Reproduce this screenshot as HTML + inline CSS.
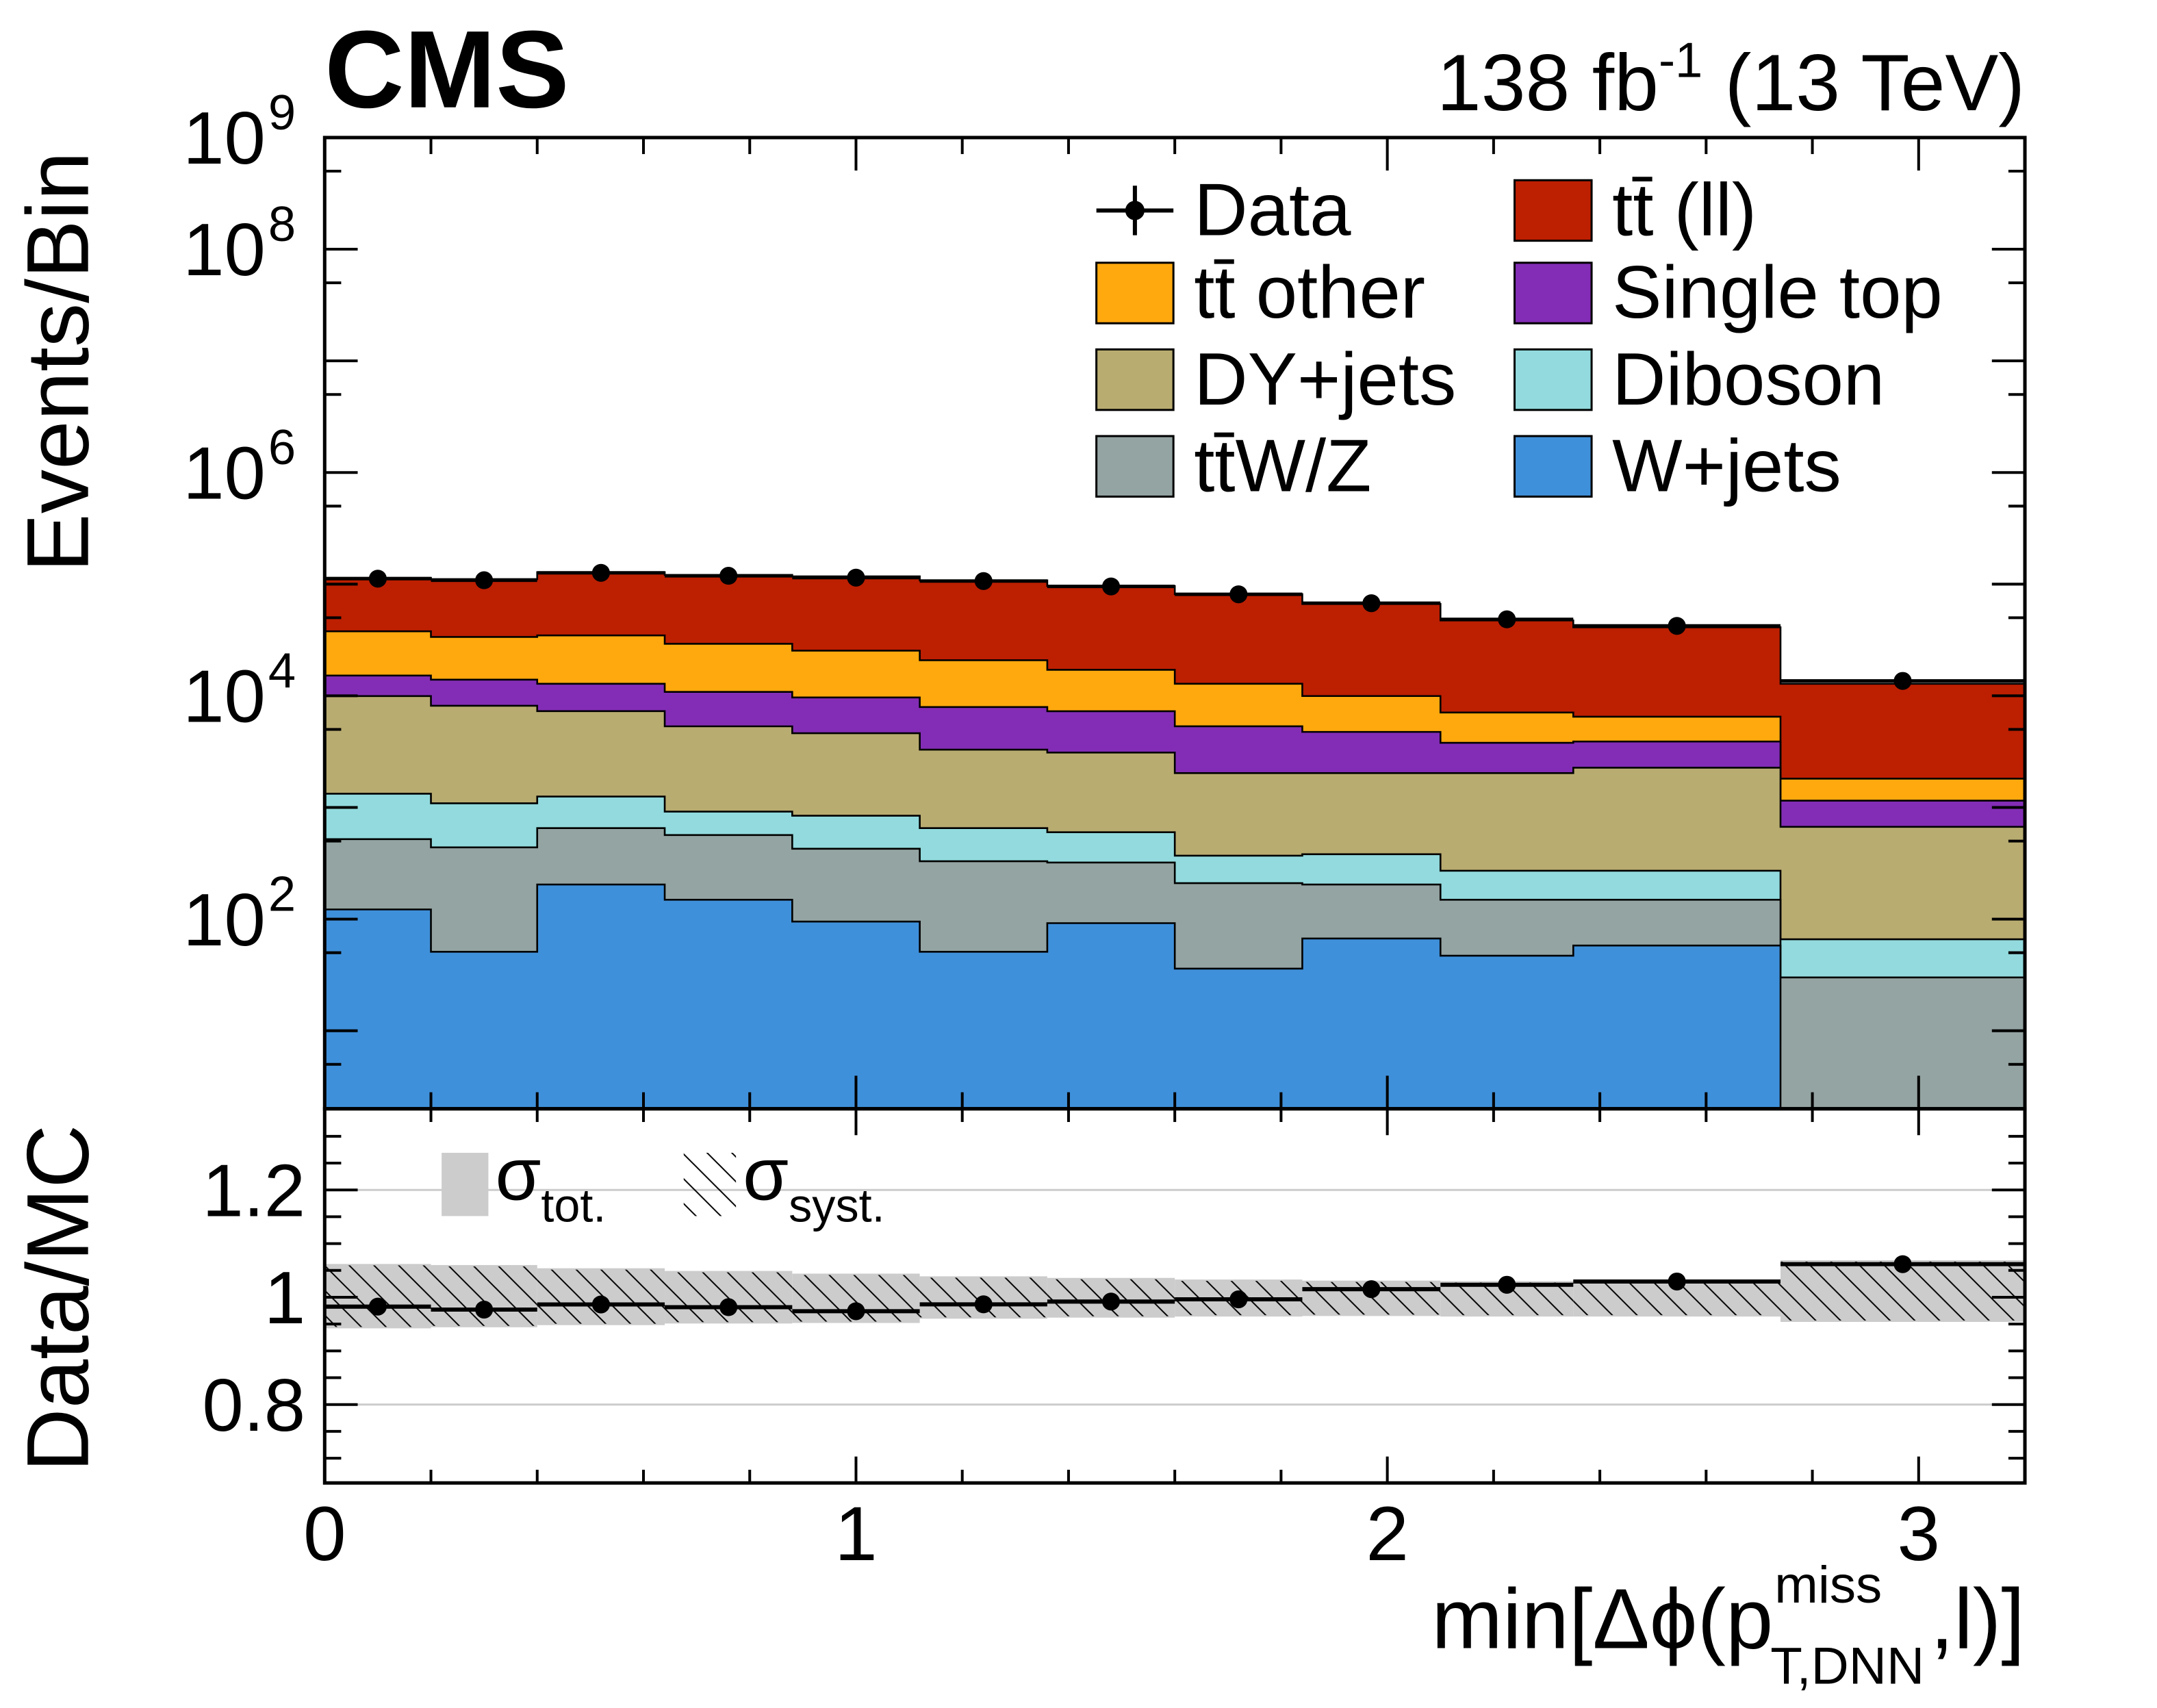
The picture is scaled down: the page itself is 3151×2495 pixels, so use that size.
<!DOCTYPE html>
<html><head><meta charset="utf-8"><style>
html,body{margin:0;padding:0;background:#fff;}
svg{display:block;font-family:"Liberation Sans",Arial,sans-serif;}
</style></head><body>
<svg id="chart" width="3151" height="2495" viewBox="0 0 1568 1241.6" xmlns="http://www.w3.org/2000/svg">
<defs>
<pattern id="hatch" patternUnits="userSpaceOnUse" width="18" height="18">
<path d="M-2,-2 L20,20 M-20,-2 L2,20 M16,-2 L38,20" stroke="#000" stroke-width="1"/>
</pattern>
<clipPath id="mainclip"><rect x="236" y="100" width="1236" height="706"/></clipPath>
<clipPath id="ratioclip"><rect x="236" y="806" width="1236" height="272"/></clipPath>
</defs>
<g id="main-stack" clip-path="url(#mainclip)"></g>
<g id="main-data"></g>
<g id="ratio-grid"></g>
<g id="ratio-band" clip-path="url(#ratioclip)"></g>
<g id="ratio-data"></g>
<g id="axes"></g>
<g id="labels">
<text x="236" y="78" font-size="80" font-weight="bold">CMS</text>
<text x="1472" y="80" font-size="58" text-anchor="end">138 fb<tspan dy="-24" font-size="36">-1</tspan><tspan dy="24"> (13 TeV)</tspan></text>
<text transform="translate(64,416) rotate(-90)" font-size="64">Events/Bin</text>
<text transform="translate(64,1070) rotate(-90)" font-size="64">Data/MC</text>
<text x="1289" y="1198" font-size="62" text-anchor="end">min[Δϕ(p</text>
<text x="1290" y="1165" font-size="38">miss</text>
<text x="1287" y="1224" font-size="38">T,DNN</text>
<text x="1472" y="1198" font-size="62" text-anchor="end">,l)]</text>
</g>
<g id="legend"></g>
<g id="ratio-legend">
<rect x="321" y="838" width="34" height="46" fill="#cccccc"/>
<text x="360" y="872" font-size="54">σ<tspan font-size="34" dy="16">tot.</tspan></text>
<rect x="497" y="838" width="38" height="46" fill="url(#hatch)"/>
<text x="540" y="872" font-size="54">σ<tspan font-size="34" dy="16">syst.</tspan></text>
</g>
</svg>
<script>
const edges=[0,0.2,0.4,0.64,0.88,1.12,1.36,1.6,1.84,2.1,2.35,2.74,3.2];
const wjets=[122,51,204,149,95,51,92,36,67,47,58,0];
const ttvz=[398,388,449,417,332,279,229,174,137,102,91,30];
const diboson=[807,650,600,352,416,323,279,160,177,122,122,36];
const dyjets=[8620,7060,6030,4410,3780,2640,2500,1660,1650,1760,2000,605];
const singletop=[5250,5810,5540,5510,5040,4640,4180,3300,2720,1760,1625,479];
const ttother=[22600,19700,21900,18400,15700,12900,9800,7490,5200,3290,2600,660];
const ttll=[76200,77300,93300,91800,92100,87200,79100,68600,56550,40220,34600,11000];
const dataVals=[112000,108400,126300,118800,114400,106600,95400,81100,67500,48400,42300,13600];
const uncUp=[0.062,0.06,0.054,0.049,0.044,0.039,0.036,0.033,0.031,0.03,0.03,0.069];
const uncDown=[0.058,0.056,0.052,0.049,0.048,0.04,0.038,0.036,0.035,0.036,0.036,0.046];
const procNames=["W+jets","ttW/Z","Diboson","DY+jets","Single top","tt other","tt (ll)"];
const procColors=["#3f90da","#94a4a2","#92dadd","#b9ac70","#832db6","#ffa90e","#bd1f01"];
const xTicks=[0,1,2,3];
const yDecLabels=[2,4,6,8,9];
const rTicks=[0.8,1,1.2];

const NS="http://www.w3.org/2000/svg";
const X0=236,X1=1472,YT=100,YB=806,RB=1078;
function X(v){return X0+v*386.25;}
function Y(v){if(v<=2)return YB;return YT+(9-Math.log10(v))*81.16;}
function R(r){return 943-(r-1)*390;}
function mk(tag,attrs,parent){const e=document.createElementNS(NS,tag);for(const k in attrs)e.setAttribute(k,attrs[k]);parent.appendChild(e);return e;}

const layers=[wjets,ttvz,diboson,dyjets,singletop,ttother,ttll];
const cum=[];let run=edges.slice(1).map(()=>0);
layers.forEach(l=>{run=run.map((v,i)=>v+l[i]);cum.push(run.slice());});
const total=cum[cum.length-1];

const gStack=document.getElementById('main-stack');
for(let k=layers.length-1;k>=0;k--){
  let d=`M${X(edges[0])},${YB}`;
  cum[k].forEach((c,i)=>{d+=` L${X(edges[i])},${Y(c)} L${X(edges[i+1])},${Y(c)}`;});
  d+=` L${X(edges[edges.length-1])},${YB} Z`;
  const p=mk('path',{d:d,fill:procColors[k],stroke:'#000','stroke-width':1.3},gStack);
  
  
}
const gData=document.getElementById('main-data');
dataVals.forEach((v,i)=>{
  const cx=(X(edges[i])+X(edges[i+1]))/2;
  const ln=mk('line',{x1:X(edges[i]),x2:X(edges[i+1]),y1:Y(v),y2:Y(v),stroke:'#000','stroke-width':2.5},gData);
  
  
  const c=mk('circle',{cx:cx,cy:Y(v),r:6.5,fill:'#000'},gData);
  
  
});
const gGrid=document.getElementById('ratio-grid');
[0.8,1.2].forEach(r=>{const l=mk('line',{x1:X0,x2:X1,y1:R(r),y2:R(r),stroke:'#cccccc','stroke-width':1.5},gGrid);
  
  });
const gBand=document.getElementById('ratio-band');
uncUp.forEach((u,i)=>{
  const x=X(edges[i]),w=X(edges[i+1])-x,y=R(1+u),h=R(1-uncDown[i])-y;
  const r1=mk('rect',{x:x,y:y,width:w,height:h,fill:'#cccccc'},gBand);
  
  
  const r2=mk('rect',{x:x,y:y+1,width:w,height:h-2,fill:'url(#hatch)'},gBand);
  
  
});
const gR=document.getElementById('ratio-data');
dataVals.forEach((v,i)=>{
  const r=v/total[i];const cx=(X(edges[i])+X(edges[i+1]))/2;
  const ln=mk('line',{x1:X(edges[i]),x2:X(edges[i+1]),y1:R(r),y2:R(r),stroke:'#000','stroke-width':3},gR);
  
  
  const c=mk('circle',{cx:cx,cy:R(r),r:6.5,fill:'#000'},gR);
  
  
});
const gA=document.getElementById('axes');
[[X0,YT,X1-X0,YB-YT],[X0,YB,X1-X0,RB-YB]].forEach(b=>{const r=mk('rect',{x:b[0],y:b[1],width:b[2],height:b[3],fill:'none',stroke:'#000','stroke-width':2.5},gA);
  
  });
function tick(x1,y1,x2,y2){const l=mk('line',{x1:x1,y1:y1,x2:x2,y2:y2,stroke:'#000','stroke-width':2},gA);
  
  }
for(let v=0;v<=3.2001;v+=0.2){
  const major=Math.abs(v-Math.round(v))<1e-6;const L=major?24:12;const x=X(v);
  tick(x,YT,x,YT+L);tick(x,YB,x,YB-L);tick(x,YB,x,YB+L*0.8);tick(x,RB,x,RB-L*0.8);
}
xTicks.forEach(v=>{const t=mk('text',{x:X(v),y:1134,'font-size':56,'text-anchor':'middle'},gA);t.textContent=v;
  
  });
for(let d=1;d<=9;d++){
  const y=Y(Math.pow(10,d));
  if(y<=YB){tick(X0,y,X0+24,y);tick(X1,y,X1-24,y);}
  const ym=Y(5*Math.pow(10,d-1));
  if(ym<YB&&ym>YT){tick(X0,ym,X0+12,ym);tick(X1,ym,X1-12,ym);}
}
yDecLabels.forEach(d=>{const t=mk('text',{x:193,y:Y(Math.pow(10,d))+19,'font-size':54,'text-anchor':'end'},gA);
  t.textContent='10';
  
  
  const s=mk('text',{x:195,y:Y(Math.pow(10,d))-6,'font-size':36},gA);s.textContent=d;
  
  });
for(let r=0.7;r<=1.3001;r+=0.05){
  const major=Math.abs(r*5-Math.round(r*5))<1e-6;const L=major?24:12;const y=R(r);
  tick(X0,y,X0+L,y);tick(X1,y,X1-L,y);
}
rTicks.forEach(r=>{const t=mk('text',{x:222,y:R(r)+19,'font-size':54,'text-anchor':'end'},gA);t.textContent=(r===1?'1':String(r));
  
  });
const gL=document.getElementById('legend');
const legItems=[
 {t:'Data',x:797,y:153,data:true},{t:'tt̄ (ll)',x:1101,y:153,c:'#bd1f01'},
 {t:'tt̄ other',x:797,y:213,c:'#ffa90e'},{t:'Single top',x:1101,y:213,c:'#832db6'},
 {t:'DY+jets',x:797,y:276,c:'#b9ac70'},{t:'Diboson',x:1101,y:276,c:'#92dadd'},
 {t:'tt̄W/Z',x:797,y:339,c:'#94a4a2'},{t:'W+jets',x:1101,y:339,c:'#3f90da'}];
legItems.forEach(it=>{
  if(it.data){
    const l=mk('line',{x1:it.x,x2:it.x+56,y1:it.y,y2:it.y,stroke:'#000','stroke-width':3},gL);
    
    
    const l2=mk('line',{x1:it.x+28,x2:it.x+28,y1:it.y-18,y2:it.y+18,stroke:'#000','stroke-width':3},gL);
    
    
    const c=mk('circle',{cx:it.x+28,cy:it.y,r:7,fill:'#000'},gL);
    
    
  } else {
    const r=mk('rect',{x:it.x,y:it.y-22,width:56,height:44,fill:it.c,stroke:'#000','stroke-width':1.5},gL);
    
    
  }
  const t=mk('text',{x:it.x+71,y:it.y+18,'font-size':54},gL);t.textContent=it.t;
  
  
});
</script>
</body></html>
